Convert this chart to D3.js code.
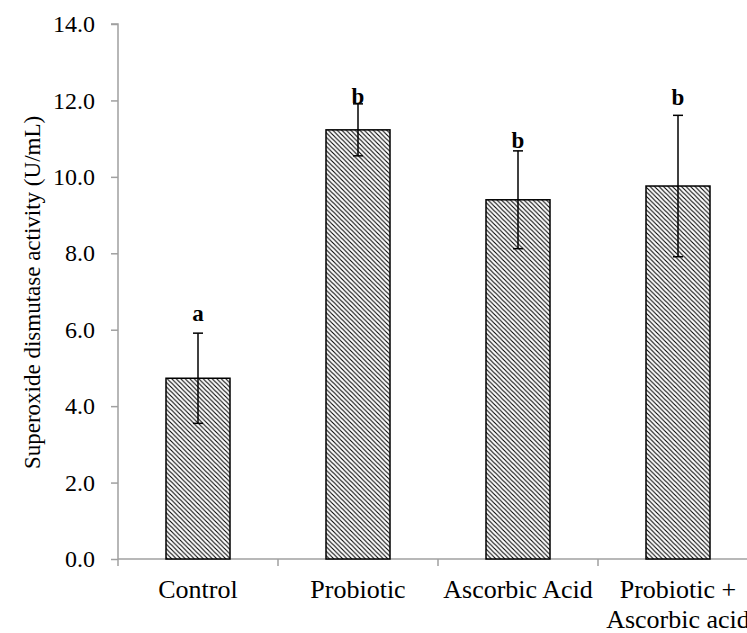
<!DOCTYPE html>
<html>
<head>
<meta charset="utf-8">
<script src="https://cdn.jsdelivr.net/npm/d3@7"></script>
<style>
  body { margin: 0; background: #fff; }
  svg { display: block; font-family: "Liberation Serif", "Times New Roman", serif; }
</style>
</head>
<body>
<div id="chart"></div>
<script>
// data
const categories = [["Control"], ["Probiotic"], ["Ascorbic Acid"], ["Probiotic +", "Ascorbic acid"]];
const means = [4.73, 11.23, 9.40, 9.76];
const errors = [1.18, 0.68, 1.28, 1.85];
const letters = ["a", "b", "b", "b"];
const letterPos = [6.23, 11.91, 10.76, 11.88];
const yTicks = [0, 2, 4, 6, 8, 10, 12, 14];

const W = 747, H = 633;
const mLeft = 118, mTop = 24, mBottom = 559, mRight = 758;
const axisColor = "#a0a0a0";

const svg = d3.select("#chart").append("svg")
  .attr("width", W).attr("height", H);

// hatch fill
const hs = 4.5;
const pat = svg.append("defs").append("pattern")
  .attr("id", "hatch")
  .attr("patternUnits", "userSpaceOnUse")
  .attr("width", hs).attr("height", hs);
pat.append("rect").attr("width", hs).attr("height", hs).attr("fill", "#fff");
pat.append("path")
  .attr("d", `M-1,-1 L${hs + 1},${hs + 1} M-1,${hs - 1} L1,${hs + 1} M${hs - 1},-1 L${hs + 1},1`)
  .attr("stroke", "#000").attr("stroke-width", 1.1);

const x = d3.scaleBand()
  .domain(categories.map(d => d.join(" ")))
  .range([mLeft, mRight])
  .padding(0);

const y = d3.scaleLinear().domain([0, 14]).range([mBottom, mTop]);

const barW = x.bandwidth() * 0.4;

// y axis
const yAxis = svg.append("g")
  .attr("transform", `translate(${mLeft},0)`)
  .call(d3.axisLeft(y).tickValues(yTicks).tickSize(7).tickPadding(16).tickFormat(d3.format(".1f")));
yAxis.select(".domain").attr("stroke", axisColor).attr("stroke-width", 1.5).attr("d", `M-7,${mTop}H0V${mBottom}`);
yAxis.selectAll(".tick line").attr("stroke", axisColor).attr("stroke-width", 1.5);
yAxis.selectAll("text").attr("font-size", 24).attr("fill", "#000")
  .attr("font-family", "Liberation Serif, serif");

// x axis (ticks on category boundaries)
const xg = svg.append("g");
xg.append("line")
  .attr("x1", mLeft).attr("x2", mRight).attr("y1", mBottom).attr("y2", mBottom)
  .attr("stroke", axisColor).attr("stroke-width", 1.5);
const bounds = x.domain().map(d => x(d)).concat([mRight]);
xg.selectAll(".xt").data(bounds).enter().append("line")
  .attr("x1", d => d).attr("x2", d => d)
  .attr("y1", mBottom).attr("y2", mBottom + 7)
  .attr("stroke", axisColor).attr("stroke-width", 1.5);

const labels = xg.selectAll(".xl").data(categories).enter().append("text")
  .attr("text-anchor", "middle")
  .attr("font-size", 26)
  .attr("x", d => x(d.join(" ")) + x.bandwidth() / 2)
  .attr("y", 598);
labels.selectAll("tspan").data(d => d).enter().append("tspan")
  .attr("x", function () { return d3.select(this.parentNode).attr("x"); })
  .attr("dy", (d, i) => i === 0 ? 0 : 30)
  .text(d => d);

// bars
const rows = categories.map((c, i) => ({ key: c.join(" "), m: means[i], e: errors[i], l: letters[i], lp: letterPos[i] }));

svg.selectAll(".bar").data(rows).enter().append("rect")
  .attr("x", d => x(d.key) + (x.bandwidth() - barW) / 2)
  .attr("y", d => y(d.m))
  .attr("width", barW)
  .attr("height", d => y(0) - y(d.m))
  .attr("fill", "url(#hatch)")
  .attr("stroke", "#000").attr("stroke-width", 1.5);

// error bars
const cx = d => x(d.key) + x.bandwidth() / 2;
const eb = svg.selectAll(".err").data(rows).enter().append("g")
  .attr("stroke", "#000").attr("stroke-width", 1.5);
eb.append("line")
  .attr("x1", cx).attr("x2", cx)
  .attr("y1", d => y(d.m + d.e)).attr("y2", d => y(d.m - d.e));
eb.append("line")
  .attr("x1", d => cx(d) - 5).attr("x2", d => cx(d) + 5)
  .attr("y1", d => y(d.m + d.e)).attr("y2", d => y(d.m + d.e));
eb.append("line")
  .attr("x1", d => cx(d) - 5).attr("x2", d => cx(d) + 5)
  .attr("y1", d => y(d.m - d.e)).attr("y2", d => y(d.m - d.e));

// significance letters
svg.selectAll(".sig").data(rows).enter().append("text")
  .attr("x", cx)
  .attr("y", d => y(d.lp))
  .attr("text-anchor", "middle")
  .attr("font-size", 23).attr("font-weight", "bold")
  .text(d => d.l);

// y axis title
svg.append("text")
  .attr("transform", `translate(40,${(mTop + mBottom) / 2 + 1}) rotate(-90)`)
  .attr("text-anchor", "middle")
  .attr("font-size", 23)
  .text("Superoxide dismutase activity (U/mL)");
</script>
</body>
</html>
